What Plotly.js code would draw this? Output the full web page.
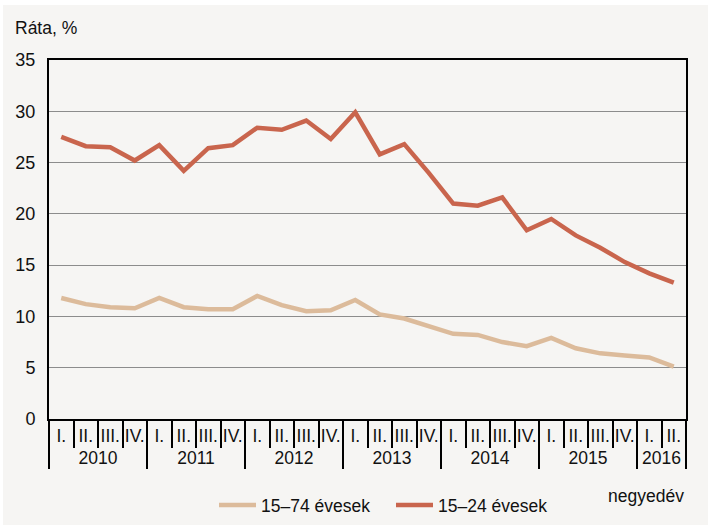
<!DOCTYPE html>
<html>
<head>
<meta charset="utf-8">
<script src="https://cdn.plot.ly/plotly-3.0.1.min.js"></script>
<style>
html,body{margin:0;padding:0;background:#ffffff;}
#wrap{position:relative;width:710px;height:525px;}
#chart{width:710px;height:525px;}
#frame{position:absolute;left:0;top:0;width:710px;height:525px;box-sizing:border-box;border-style:solid;border-color:#ffffff;border-width:5px 2px 0 3px;pointer-events:none;}
</style>
</head>
<body>
<div id="wrap"><div id="chart"></div><div id="frame"></div></div>
<script>
// Data
var years = ['2010','2011','2012','2013','2014','2015','2016'];
var quarterNames = ['I.','II.','III.','IV.'];
var quartersPerYear = [4,4,4,4,4,4,2];
var series1Name = '15–74 évesek';
var series1 = [11.8,11.2,10.9,10.8, 11.8,10.9,10.7,10.7, 12.0,11.1,10.5,10.6, 11.6,10.2,9.8,9.1, 8.3,8.2,7.5,7.1, 7.9,6.9,6.4,6.2, 6.0,5.1];
var series2Name = '15–24 évesek';
var series2 = [27.5,26.6,26.5,25.2, 26.7,24.2,26.4,26.7, 28.4,28.2,29.1,27.3, 29.9,25.8,26.8,24.0, 21.0,20.8,21.6,18.4, 19.5,17.9,16.7,15.3, 14.2,13.3];

var xYears = [], xQuarters = [];
years.forEach(function(y,i){
  for (var q=0;q<quartersPerYear[i];q++){ xYears.push(y); xQuarters.push(quarterNames[q]); }
});
var nPoints = xYears.length;

var FONT = 'Liberation Sans, Arial, sans-serif';
var traces = [
  {x:[xYears,xQuarters], y:series1, name:series1Name, type:'scatter', mode:'lines',
   line:{color:'#dcbb9b', width:4.5}},
  {x:[xYears,xQuarters], y:series2, name:series2Name, type:'scatter', mode:'lines',
   line:{color:'#c9654d', width:4.5}}
];

var layout = {
  width:710, height:525,
  paper_bgcolor:'#f6f5f3', plot_bgcolor:'#f6f5f3',
  margin:{l:49, r:24, t:60, b:106},
  font:{family:FONT, size:17.5, color:'#111111'},
  showlegend:true,
  legend:{orientation:'h', xref:'container', yref:'container', x:214/710, xanchor:'left',
          y:1-505/525, yanchor:'middle', itemwidth:37,
          bgcolor:'rgba(0,0,0,0)', font:{size:17.5}, entrywidth:125, entrywidthmode:'pixels',
          traceorder:'normal'},
  title:{text:'Ráta, %', xref:'container', yref:'container', x:15/710, xanchor:'left',
         y:1-28/525, yanchor:'middle', font:{family:FONT, size:17.5, color:'#111111'}},
  xaxis:{type:'multicategory', automargin:false, range:[-0.5, nPoints-0.5],
         showline:true, linecolor:'#000000', linewidth:2, mirror:true,
         ticks:'outside', tickson:'boundaries', ticklen:27, tickwidth:2, tickcolor:'#000000',
         tickangle:0, showdividers:true, dividercolor:'#000000', dividerwidth:2,
         showgrid:false, tickfont:{size:17.5}},
  yaxis:{range:[0,35], dtick:5, tick0:0, automargin:false, showline:true, linecolor:'#000000', linewidth:2, mirror:true,
         showgrid:true, gridcolor:'#8c8c8c', gridwidth:1, ticks:'', zeroline:false,
         tickfont:{size:18}, ticklabelstandoff:8},
  annotations:[{text:'negyedév', xref:'paper', yref:'paper', x:1, y:0, xanchor:'right',
                yanchor:'middle', yshift:-77, showarrow:false, font:{size:17.5}}]
};
Plotly.newPlot('chart', traces, layout, {displayModeBar:false, staticPlot:true});
</script>
</body>
</html>
